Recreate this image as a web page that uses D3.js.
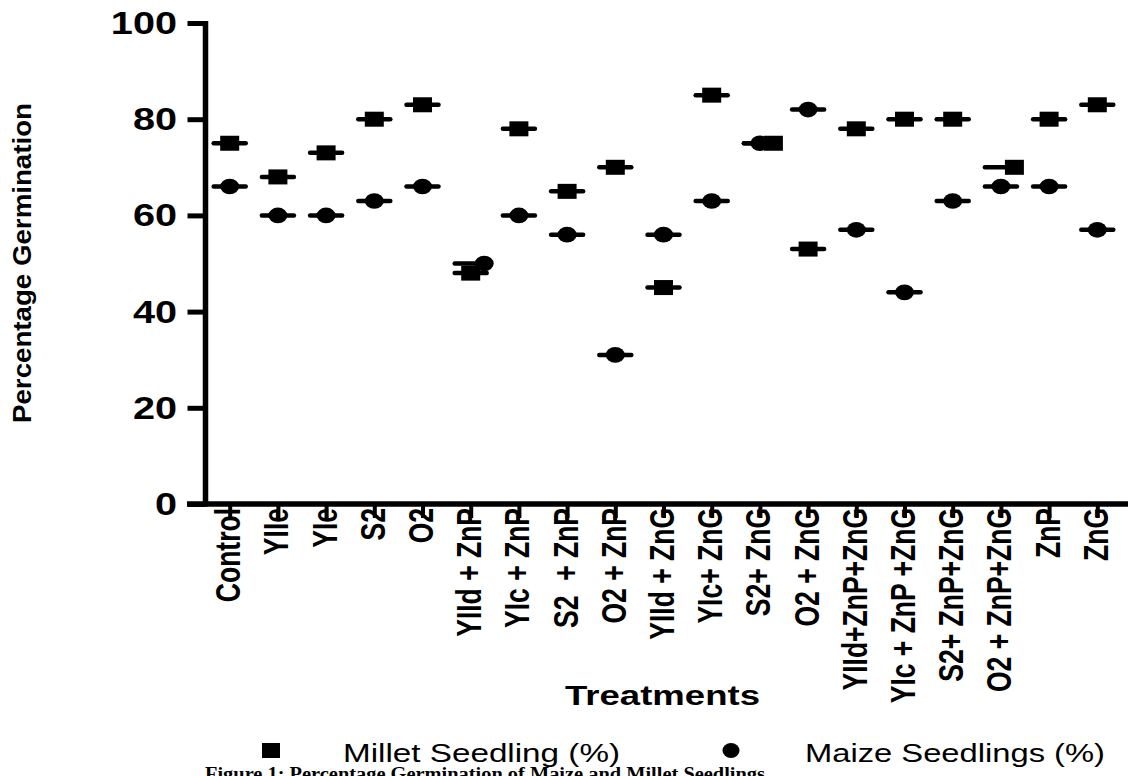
<!DOCTYPE html>
<html>
<head>
<meta charset="utf-8">
<script src="https://cdn.jsdelivr.net/npm/d3@7"></script>
<style>
  html, body { margin: 0; padding: 0; background: #fff; overflow: hidden; }
  svg { display: block; }
  text { font-family: "Liberation Sans", Arial, sans-serif; fill: #000; }
</style>
</head>
<body>
<svg id="chart" width="1130" height="776"></svg>
<script>
const categories = ["Control","YIIe","YIe","S2","O2","YIId + ZnP","YIc + ZnP","S2  + ZnP","O2 + ZnP",
  "YIId + ZnG","YIc+ ZnG","S2+ ZnG","O2 + ZnG","YIId+ZnP+ZnG","YIc + ZnP +ZnG","S2+ ZnP+ZnG",
  "O2 + ZnP+ZnG","ZnP","ZnG"];
const milletValues = [75,68,73,80,83,48,78,65,70,45,85,75,53,78,80,80,70,80,83];
const maizeValues  = [66,60,60,63,66,50,60,56,31,56,63,75,82,57,44,63,66,66,57];
const yTicks = [0,20,40,60,80,100];
const seriesNames = ["Millet Seedling (%)","Maize Seedlings (%)"];
const yTitle = "Percentage Germination";
const xTitle = "Treatments";
const caption = "Figure 1: Percentage Germination of Maize and Millet Seedlings";

const svg = d3.select("#chart");
svg.append("rect").attr("width",1130).attr("height",776).attr("fill","#fff");

const x = d3.scalePoint().domain(categories).range([229.7, 1097.3]);
const y = d3.scaleLinear().domain([0,100]).range([504, 23]);
const SX = 1.3; // horizontal stretch of the original picture

// Y axis
const yAxis = d3.axisLeft(y).tickValues(yTicks).tickSize(18).tickPadding(0).tickFormat(d3.format("d"));
const gy = svg.append("g").attr("transform","translate(205.5,0)").call(yAxis);
gy.select(".domain").remove();
gy.selectAll(".tick line").attr("stroke","#000").attr("stroke-width",5);
gy.selectAll(".tick text").remove();
gy.append("line").attr("x1",0).attr("x2",0).attr("y1",y(100)-2).attr("y2",y(0)+2.5)
  .attr("stroke","#000").attr("stroke-width",5.5);
svg.append("g").selectAll("g").data(yTicks).join("g")
  .attr("transform", d => `translate(177,${y(d)}) scale(${SX},1)`)
  .append("text").attr("text-anchor","end").attr("dy","0.36em")
  .attr("font-weight","bold").attr("font-size",30.5).text(d => d);

// X axis
const xAxis = d3.axisBottom(x).tickSize(14).tickFormat("");
const gx = svg.append("g").attr("transform","translate(0,504)").call(xAxis);
gx.select(".domain").remove();
gx.selectAll(".tick line").attr("stroke","#000").attr("stroke-width",4);
gx.append("line").attr("x1",187).attr("x2",1128).attr("y1",0).attr("y2",0)
  .attr("stroke","#000").attr("stroke-width",5.5);
svg.append("g").selectAll("g").data(categories).join("g")
  .attr("transform", d => `translate(${x(d)-2},508) scale(${SX},1) rotate(-90)`)
  .append("text").attr("text-anchor","end").attr("dy","0.36em")
  .attr("font-weight","bold").attr("font-size",26.5)
  .style("white-space","pre").text(d => d);

// Axis titles
svg.append("g").attr("transform",`translate(22,263) rotate(-90)`)
  .append("text").attr("text-anchor","middle").attr("dy","0.36em")
  .attr("font-weight","bold").attr("font-size",26)
  .attr("textLength",320).attr("lengthAdjust","spacingAndGlyphs").text(yTitle);
svg.append("text").attr("x",565).attr("y",705)
  .attr("font-weight","bold").attr("font-size",28)
  .attr("textLength",195).attr("lengthAdjust","spacingAndGlyphs").text(xTitle);

// Data
const rows = categories.map((c,i) => ({c, m: milletValues[i], z: maizeValues[i]}));
const NUDGE = 13.5;
function shiftFor(r, which) {
  if (Math.abs(r.m - r.z) > 4) return 0;
  const higher = r.m >= r.z ? "m" : "z";
  return which === higher ? NUDGE : 0;
}
const marks = svg.append("g");
// mean lines
["m","z"].forEach(k => {
  marks.append("g").selectAll("line").data(rows).join("line")
    .attr("x1", d => x(d.c)-16).attr("x2", d => x(d.c)+16)
    .attr("y1", d => y(d[k])).attr("y2", d => y(d[k]))
    .attr("stroke","#000").attr("stroke-width",4.5).attr("stroke-linecap","round");
});
// millet squares
marks.append("g").selectAll("rect").data(rows).join("rect")
  .attr("x", d => x(d.c) + shiftFor(d,"m") - 9.5).attr("y", d => y(d.m) - 7.5)
  .attr("width",19).attr("height",15).attr("fill","#000");
// maize circles
marks.append("g").selectAll("ellipse").data(rows).join("ellipse")
  .attr("cx", d => x(d.c) + shiftFor(d,"z")).attr("cy", d => y(d.z))
  .attr("rx",9.5).attr("ry",7.8).attr("fill","#000");

// Legend
const leg = svg.append("g");
leg.append("rect").attr("x",262).attr("y",743).attr("width",18).attr("height",15).attr("fill","#000");
leg.append("text").attr("x",343).attr("y",762).attr("font-size",25)
  .attr("textLength",277).attr("lengthAdjust","spacingAndGlyphs").text(seriesNames[0]);
leg.append("ellipse").attr("cx",731).attr("cy",750.5).attr("rx",8.5).attr("ry",7.5).attr("fill","#000");
leg.append("text").attr("x",805).attr("y",762).attr("font-size",25)
  .attr("textLength",300).attr("lengthAdjust","spacingAndGlyphs").text(seriesNames[1]);

// Caption (cut off at the bottom edge, as in the original)
svg.append("text").attr("x",205).attr("y",780)
  .style("font-family",'"Liberation Serif", "Times New Roman", serif')
  .attr("font-weight","bold").attr("font-size",18)
  .attr("textLength",560).attr("lengthAdjust","spacingAndGlyphs").text(caption);
</script>
</body>
</html>
